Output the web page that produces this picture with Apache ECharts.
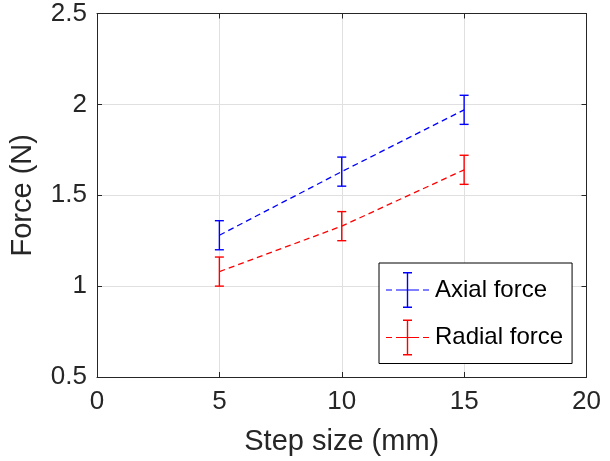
<!DOCTYPE html>
<html>
<head>
<meta charset="utf-8">
<script src="https://cdn.jsdelivr.net/npm/echarts@6/dist/echarts.min.js"></script>
<style>
html,body{margin:0;padding:0;background:#fff;}
#chart{width:610px;height:461px;}
</style>
</head>
<body>
<div id="chart"></div>
<script>
// Data
var stepSizes = [5, 10, 15];
var axialMean = [1.28, 1.63, 1.97];
var axialErr = [0.08, 0.08, 0.08];
var radialMean = [1.08, 1.33, 1.64];
var radialErr = [0.08, 0.08, 0.08];
var xTicks = [0, 5, 10, 15, 20];
var yTicks = [0.5, 1, 1.5, 2, 2.5];
var seriesNames = ['Axial force', 'Radial force'];
var seriesColors = ['#0000ff', '#ff0000'];

var FONT = '"Liberation Sans", Arial, Helvetica, sans-serif';
var AX = '#262626';

function pairs(xs, ys) { return xs.map(function (x, i) { return [x, ys[i]]; }); }
function errData(xs, m, e) { return xs.map(function (x, i) { return [x, m[i] - e[i], m[i] + e[i]]; }); }

function errorRender(color) {
  return function (params, api) {
    var x = api.value(0);
    var lo = api.coord([x, api.value(1)]);
    var hi = api.coord([x, api.value(2)]);
    var cap = 4.5;
    var st = { stroke: color, lineWidth: 1.4 };
    return {
      type: 'group',
      children: [
        { type: 'line', shape: { x1: lo[0], y1: lo[1], x2: hi[0], y2: hi[1] }, style: st },
        { type: 'line', shape: { x1: lo[0] - cap, y1: lo[1], x2: lo[0] + cap, y2: lo[1] }, style: st },
        { type: 'line', shape: { x1: hi[0] - cap, y1: hi[1], x2: hi[0] + cap, y2: hi[1] }, style: st }
      ]
    };
  };
}

// legend icon: dashed line with an error bar (43 x 36 box)
var iconPath = 'path://M0,17.4h6v1.2h-6z M10,17.4h6v1.2h-6z M27,17.4h6v1.2h-6z M37,17.4h6v1.2h-6z M16,17.4h11v1.2h-11z ' +
  'M20.8,0h1.4v36h-1.4z M17,0h9v1.4h-9z M17,34.6h9v1.4h-9z';

var axisCommon = {
  type: 'value',
  axisLine: { show: true, onZero: false, lineStyle: { color: AX, width: 1 } },
  axisTick: { show: true, inside: true, length: 5, lineStyle: { color: AX } },
  splitLine: { show: false }
};

var chart = echarts.init(document.getElementById('chart'), null, { renderer: 'canvas' });
chart.setOption({
  animation: false,
  backgroundColor: '#fff',
  textStyle: { fontFamily: FONT },
  grid: { left: 96, right: 23.5, top: 13.5, bottom: 84, containLabel: false },
  xAxis: [
    Object.assign({}, axisCommon, {
      position: 'bottom', min: 0, max: 20, interval: 5,
      name: 'Step size (mm)', nameLocation: 'middle', nameGap: 50,
      nameTextStyle: { fontSize: 29, color: AX, fontFamily: FONT },
      axisLabel: { fontSize: 26, color: AX, margin: 12, fontFamily: FONT,
        formatter: function (v) { return xTicks.indexOf(v) >= 0 ? String(v) : ''; } },
      splitLine: { show: true, lineStyle: { color: '#e0e0e0', width: 1 } }
    }),
    Object.assign({}, axisCommon, {
      position: 'top', min: 0, max: 20, interval: 5,
      axisLabel: { show: false }
    })
  ],
  yAxis: [
    Object.assign({}, axisCommon, {
      position: 'left', min: 0.5, max: 2.5, interval: 0.5,
      name: 'Force (N)', nameLocation: 'middle', nameGap: 60,
      nameTextStyle: { fontSize: 29, color: AX, fontFamily: FONT },
      axisLabel: { fontSize: 26, color: AX, margin: 10, fontFamily: FONT,
        formatter: function (v) { return yTicks.indexOf(v) >= 0 ? String(v) : ''; } },
      splitLine: { show: true, lineStyle: { color: '#e0e0e0', width: 1 } }
    }),
    Object.assign({}, axisCommon, {
      position: 'right', min: 0.5, max: 2.5, interval: 0.5,
      axisLabel: { show: false }
    })
  ],
  legend: {
    orient: 'vertical',
    left: 379, top: 263,
    backgroundColor: '#fff',
    borderColor: '#000', borderWidth: 1, borderRadius: 0,
    padding: [9, 9, 8, 7],
    itemWidth: 43, itemHeight: 36, itemGap: 11.5,
    textStyle: { fontSize: 24, color: '#000', fontFamily: FONT, padding: [0, 0, 0, 1] },
    data: [
      { name: seriesNames[0], icon: iconPath, itemStyle: { color: seriesColors[0] } },
      { name: seriesNames[1], icon: iconPath, itemStyle: { color: seriesColors[1] } }
    ]
  },
  series: [
    {
      name: seriesNames[0], type: 'line', data: pairs(stepSizes, axialMean),
      showSymbol: false, symbol: 'none', color: seriesColors[0],
      lineStyle: { color: seriesColors[0], width: 1.3, type: [6, 4] }
    },
    {
      name: seriesNames[1], type: 'line', data: pairs(stepSizes, radialMean),
      showSymbol: false, symbol: 'none', color: seriesColors[1],
      lineStyle: { color: seriesColors[1], width: 1.3, type: [6, 4] }
    },
    {
      name: seriesNames[0], type: 'custom', data: errData(stepSizes, axialMean, axialErr),
      renderItem: errorRender(seriesColors[0]), color: seriesColors[0], z: 3
    },
    {
      name: seriesNames[1], type: 'custom', data: errData(stepSizes, radialMean, radialErr),
      renderItem: errorRender(seriesColors[1]), color: seriesColors[1], z: 3
    }
  ]
});
</script>
</body>
</html>
